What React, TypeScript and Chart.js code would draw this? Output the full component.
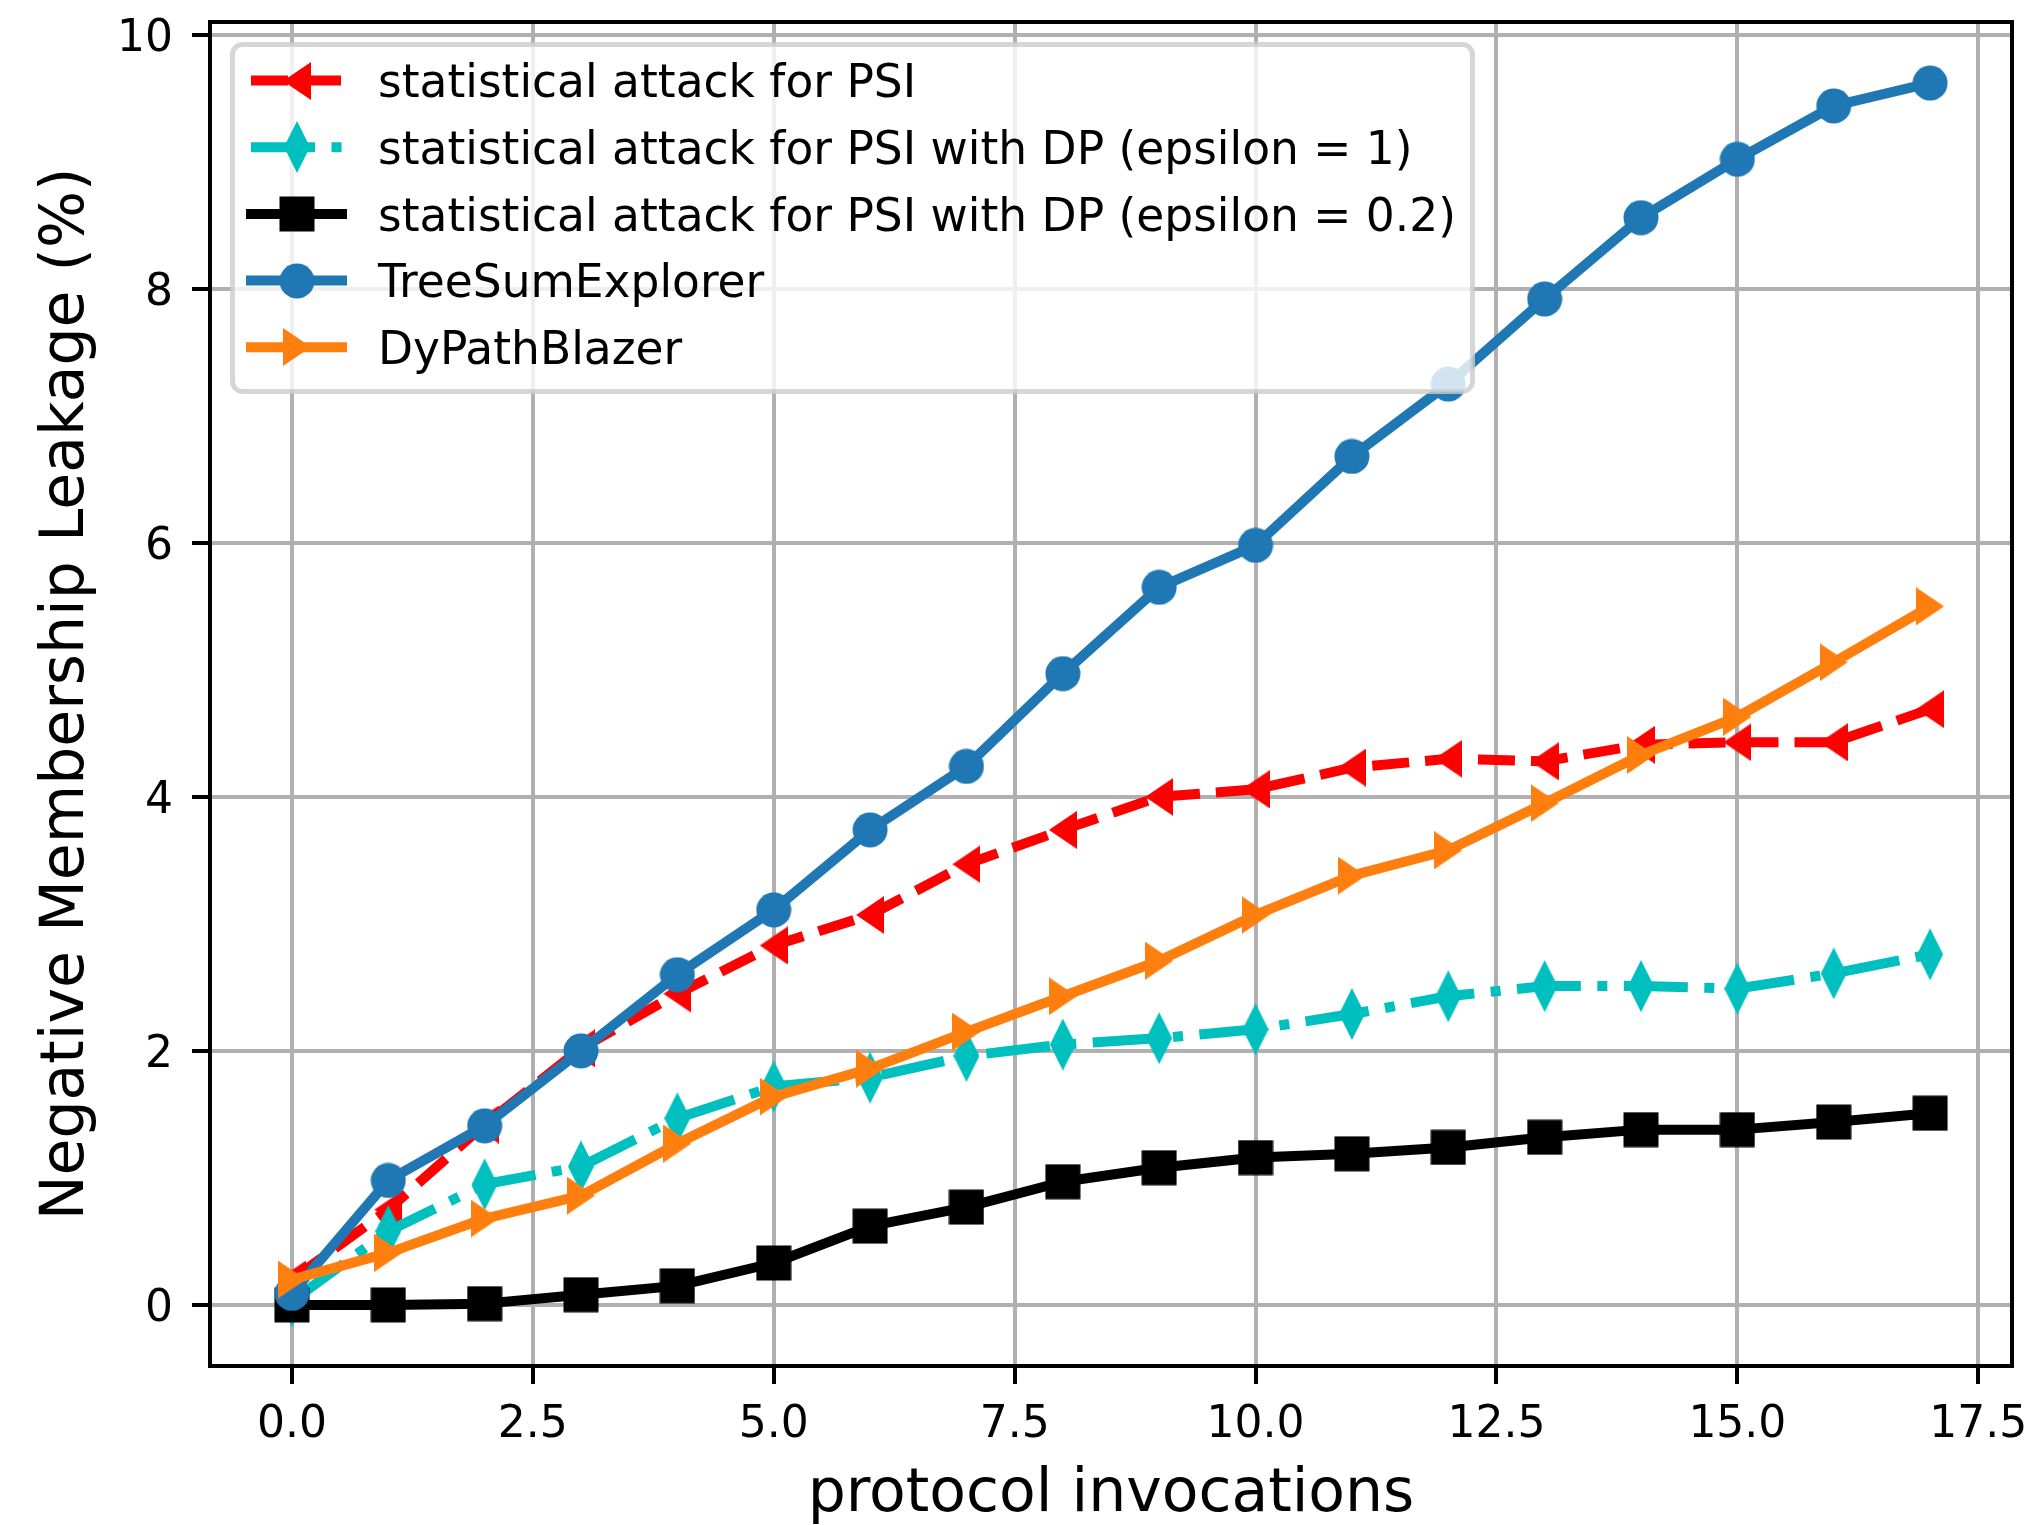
import React, { useEffect, useRef } from 'react';
import { Chart, registerables } from 'chart.js';

Chart.register(...registerables);

// ---------------- data ----------------
const xValues = [0, 1, 2, 3, 4, 5, 6, 7, 8, 9, 10, 11, 12, 13, 14, 15, 16, 17];

const psiAttack = [0.2, 0.75, 1.42, 2.02, 2.45, 2.83, 3.07, 3.47, 3.74, 4.0, 4.06, 4.23, 4.3, 4.28, 4.41, 4.43, 4.43, 4.69];
const psiDpEps1 = [0.03, 0.58, 0.95, 1.09, 1.47, 1.72, 1.79, 1.96, 2.05, 2.1, 2.17, 2.29, 2.43, 2.51, 2.51, 2.49, 2.61, 2.76];
const psiDpEps02 = [0.0, 0.0, 0.01, 0.08, 0.15, 0.33, 0.62, 0.77, 0.97, 1.08, 1.16, 1.19, 1.24, 1.32, 1.38, 1.38, 1.44, 1.51];
const treeSumExplorer = [0.09, 0.98, 1.41, 2.0, 2.6, 3.11, 3.74, 4.24, 4.97, 5.65, 5.98, 6.68, 7.25, 7.92, 8.56, 9.02, 9.44, 9.62];
const dyPathBlazer = [0.2, 0.41, 0.68, 0.86, 1.27, 1.64, 1.86, 2.15, 2.43, 2.71, 3.07, 3.38, 3.58, 3.95, 4.33, 4.63, 5.06, 5.5];

const seriesLabels = [
  'statistical attack for PSI',
  'statistical attack for PSI with DP (epsilon = 1)',
  'statistical attack for PSI with DP (epsilon = 0.2)',
  'TreeSumExplorer',
  'DyPathBlazer',
];

const xTickValues = [0, 2.5, 5, 7.5, 10, 12.5, 15, 17.5];
const yTickValues = [0, 2, 4, 6, 8, 10];

const xAxisTitle = 'protocol invocations';
const yAxisTitle = 'Negative Membership Leakage (%)';

// ---------------- styling ----------------
const FAMILY = "'DejaVu Sans', sans-serif";
const W = 2034;
const H = 1525;

type Shape = 'circle' | 'square' | 'triL' | 'triR' | 'diamond';

function makeMarker(shape: Shape, color: string): HTMLCanvasElement {
  const c = document.createElement('canvas');
  let w = 36;
  let h = 36;
  if (shape === 'triL' || shape === 'triR') { w = 28; h = 38; }
  if (shape === 'diamond') { w = 26; h = 52; }
  c.width = w;
  c.height = h;
  const g = c.getContext('2d')!;
  g.fillStyle = color;
  g.beginPath();
  if (shape === 'circle') {
    g.arc(w / 2, h / 2, 17.5, 0, Math.PI * 2);
  } else if (shape === 'square') {
    g.rect(0.5, 0.5, 35, 35);
  } else if (shape === 'triL') {
    g.moveTo(0, h / 2);
    g.lineTo(w, 0);
    g.lineTo(w, h);
  } else if (shape === 'triR') {
    g.moveTo(w, h / 2);
    g.lineTo(0, 0);
    g.lineTo(0, h);
  } else {
    g.moveTo(w / 2, 0);
    g.lineTo(w, h / 2);
    g.lineTo(w / 2, h);
    g.lineTo(0, h / 2);
  }
  g.closePath();
  g.fill();
  return c;
}

export default function App() {
  const canvasRef = useRef<HTMLCanvasElement | null>(null);

  useEffect(() => {
    const canvas = canvasRef.current;
    if (!canvas) return;

    const series = [
      { label: seriesLabels[0], data: psiAttack, color: '#ff0000', shape: 'triL' as Shape, dash: [37, 16] },
      { label: seriesLabels[1], data: psiDpEps1, color: '#00bfbf', shape: 'diamond' as Shape, dash: [64, 16.5, 10, 16.5] },
      { label: seriesLabels[2], data: psiDpEps02, color: '#000000', shape: 'square' as Shape, dash: [] as number[] },
      { label: seriesLabels[3], data: treeSumExplorer, color: '#1f77b4', shape: 'circle' as Shape, dash: [] as number[] },
      { label: seriesLabels[4], data: dyPathBlazer, color: '#ff7f0e', shape: 'triR' as Shape, dash: [] as number[] },
    ];
    const markers = series.map((s) => makeMarker(s.shape, s.color));

    const allY = series.flatMap((s) => s.data);
    const yLo = Math.min(...allY);
    const yHi = Math.max(...allY);
    const yPad = (yHi - yLo) * 0.05;
    const xLo = Math.min(...xValues);
    const xHi = Math.max(...xValues);
    const xPad = (xHi - xLo) * 0.05;

    const datasets = series.map((s, i) => ({
      label: s.label,
      data: xValues.map((x, k) => ({ x, y: s.data[k] })),
      borderColor: s.color,
      backgroundColor: s.color,
      borderWidth: 10,
      borderDash: s.dash,
      borderCapStyle: s.dash.length ? 'butt' : 'square',
      borderJoinStyle: 'round',
      pointStyle: markers[i],
      pointRadius: 18,
      pointHoverRadius: 18,
      pointBorderWidth: 0,
      fill: false,
      tension: 0,
      order: series.length - i,
    }));

    const framePlugin = {
      id: 'mplFrameLegend',
      afterDraw(chart: any) {
        const ctx: CanvasRenderingContext2D = chart.ctx;
        const a = chart.chartArea;
        // spines
        ctx.save();
        ctx.strokeStyle = '#000';
        ctx.lineWidth = 4;
        ctx.setLineDash([]);
        ctx.strokeRect(a.left, a.top, a.right - a.left, a.bottom - a.top);
        ctx.restore();

        // legend
        const lx = a.left + 22.5;
        const ly = a.top + 22.5;
        const lw = 1240;
        const lh = 347;
        const r = 10;
        ctx.save();
        ctx.beginPath();
        ctx.moveTo(lx + r, ly);
        ctx.lineTo(lx + lw - r, ly);
        ctx.arcTo(lx + lw, ly, lx + lw, ly + r, r);
        ctx.lineTo(lx + lw, ly + lh - r);
        ctx.arcTo(lx + lw, ly + lh, lx + lw - r, ly + lh, r);
        ctx.lineTo(lx + r, ly + lh);
        ctx.arcTo(lx, ly + lh, lx, ly + lh - r, r);
        ctx.lineTo(lx, ly + r);
        ctx.arcTo(lx, ly, lx + r, ly, r);
        ctx.closePath();
        ctx.fillStyle = 'rgba(255,255,255,0.8)';
        ctx.fill();
        ctx.strokeStyle = 'rgba(204,204,204,0.8)';
        ctx.lineWidth = 5;
        ctx.stroke();

        const hx0 = lx + 18.5;
        const hx1 = hx0 + 91;
        const rowH = 66.7;
        series.forEach((s, i) => {
          const y = ly + 36 + i * rowH;
          ctx.beginPath();
          ctx.setLineDash(s.dash);
          ctx.lineDashOffset = 0;
          ctx.lineCap = s.dash.length ? 'butt' : 'square';
          ctx.strokeStyle = s.color;
          ctx.lineWidth = 10;
          ctx.moveTo(hx0, y);
          ctx.lineTo(hx1, y);
          ctx.stroke();
          ctx.setLineDash([]);
          const m = markers[i];
          const cx = (hx0 + hx1) / 2;
          ctx.drawImage(m, Math.round(cx - m.width / 2), Math.round(y - m.height / 2));
          ctx.fillStyle = '#000';
          ctx.font = `45.5px ${FAMILY}`;
          ctx.textAlign = 'left';
          ctx.textBaseline = 'alphabetic';
          ctx.fillText(s.label, hx1 + 36, y + 16.7);
        });
        ctx.restore();
      },
    };

    const chart = new Chart(canvas, {
      type: 'line',
      data: { datasets: datasets as any },
      options: {
        responsive: false,
        animation: false,
        devicePixelRatio: 1,
        events: [],
        layout: { padding: { top: 22, right: 22, bottom: 0, left: 0 } },
        plugins: {
          legend: { display: false },
          tooltip: { enabled: false },
        },
        scales: {
          x: {
            type: 'linear',
            min: xLo - xPad,
            max: xHi + xPad,
            afterBuildTicks: (s: any) => {
              s.ticks = xTickValues.map((v) => ({ value: v }));
            },
            afterFit: (s: any) => {
              s.height = 159;
              s.paddingLeft = 0;
              s.paddingRight = 0;
            },
            ticks: {
              font: { size: 44, family: FAMILY },
              color: '#000',
              padding: 15,
              maxRotation: 0,
              autoSkip: false,
              callback: (v: any) => Number(v).toFixed(1),
            },
            grid: {
              color: '#b0b0b0',
              lineWidth: 4,
              tickColor: '#000',
              tickWidth: 4,
              tickLength: 18,
            },
            border: { display: false },
            title: {
              display: true,
              text: xAxisTitle,
              color: '#000',
              font: { size: 60, family: FAMILY },
              padding: { top: 0, bottom: -6 },
            },
          },
          y: {
            type: 'linear',
            min: yLo - yPad,
            max: yHi + yPad,
            afterBuildTicks: (s: any) => {
              s.ticks = yTickValues.map((v) => ({ value: v }));
            },
            afterFit: (s: any) => {
              s.width = 210;
              s.paddingTop = 0;
              s.paddingBottom = 0;
            },
            ticks: {
              font: { size: 44, family: FAMILY },
              color: '#000',
              padding: 19,
              labelOffset: 5,
              autoSkip: false,
              callback: (v: any) => String(Number(v)),
            },
            grid: {
              color: '#b0b0b0',
              lineWidth: 4,
              tickColor: '#000',
              tickWidth: 4,
              tickLength: 18,
            },
            border: { display: false },
            title: {
              display: true,
              text: yAxisTitle,
              color: '#000',
              font: { size: 60, family: FAMILY },
              padding: { top: 31.5, bottom: 0 },
            },
          },
        },
      } as any,
      plugins: [framePlugin],
    });

    return () => {
      chart.destroy();
    };
  }, []);

  return (
    <div style={{ position: 'fixed', left: 0, top: 0, width: W, height: H, background: '#fff', overflow: 'hidden' }}>
      <canvas ref={canvasRef} width={W} height={H} style={{ display: 'block', width: W, height: H }} />
    </div>
  );
}
